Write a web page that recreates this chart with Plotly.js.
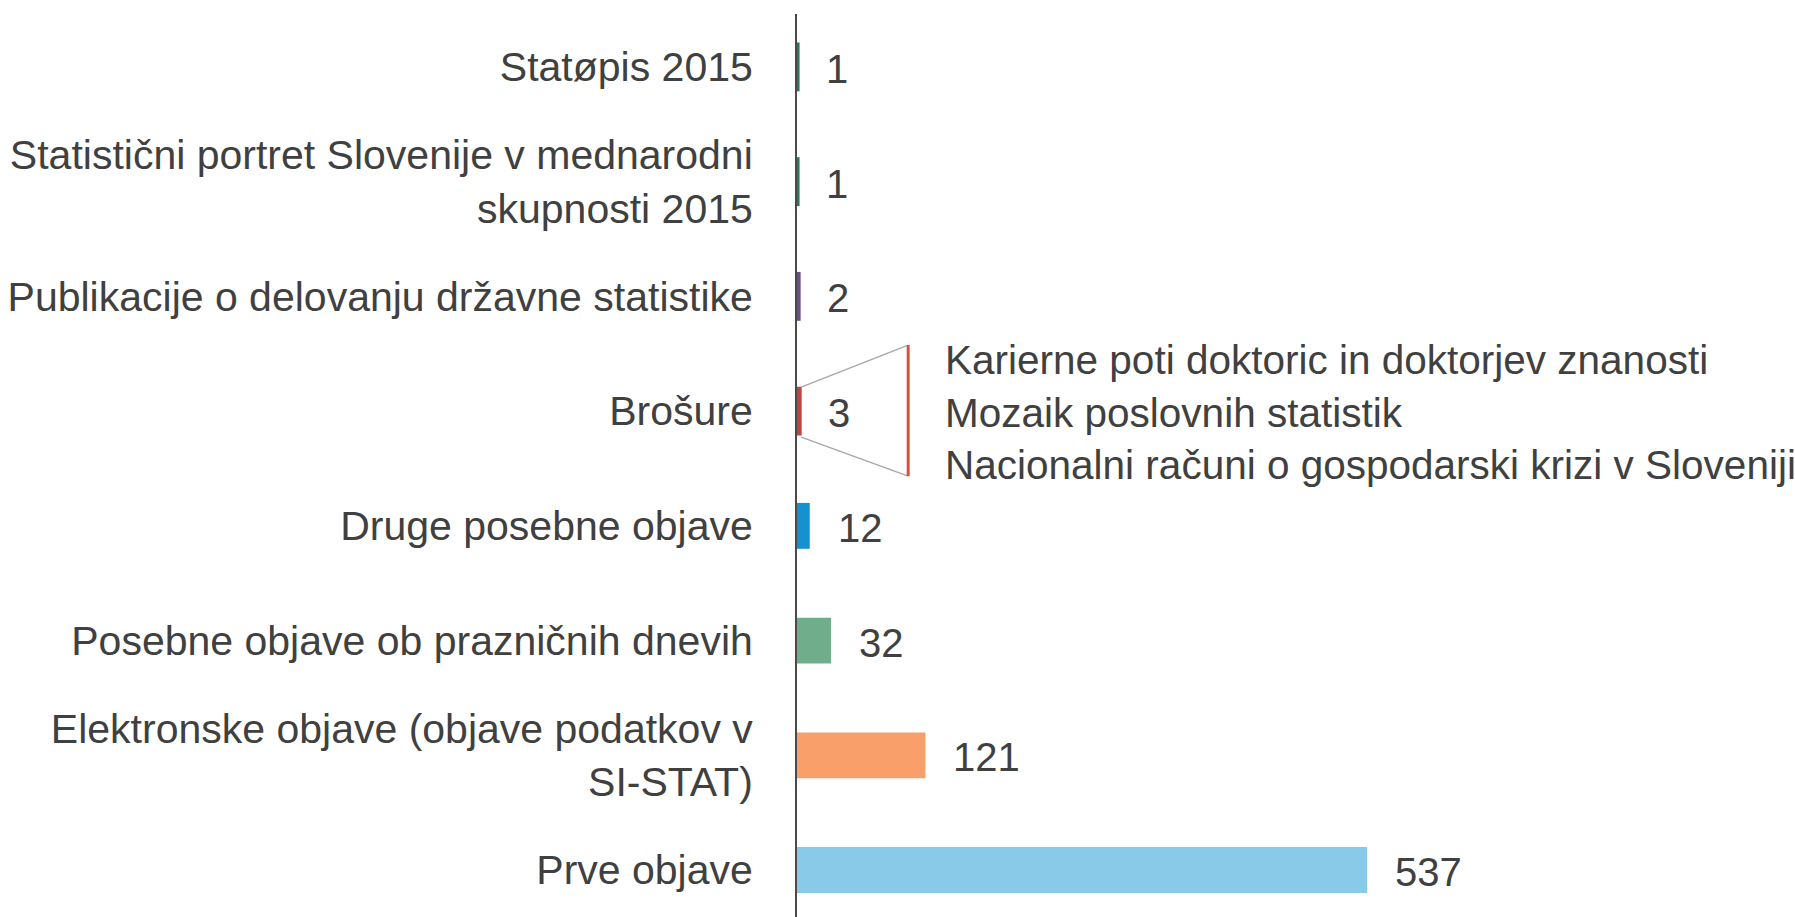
<!DOCTYPE html>
<html>
<head>
<meta charset="utf-8">
<script src="https://cdn.plot.ly/plotly-3.0.1.min.js"></script>
<style>
  html, body { margin: 0; padding: 0; background: #ffffff; }
  #chart { width: 1795px; height: 917px; }
</style>
</head>
<body>
<div id="chart"></div>
<script>
// Categories listed top to bottom
const categories = [
  "Statøpis 2015",
  "Statistični portret Slovenije v mednarodni<br>skupnosti 2015",
  "Publikacije o delovanju državne statistike",
  "Brošure",
  "Druge posebne objave",
  "Posebne objave ob prazničnih dnevih",
  "Elektronske objave (objave podatkov v<br>SI-STAT)",
  "Prve objave"
];
const values = [1, 1, 2, 3, 12, 32, 121, 537];
const barColors = ["#2a7658", "#1f7d5d", "#6c4f8a", "#c2443e", "#1790d0", "#70ad8a", "#f9a06a", "#89cae8"];
const brosureTitles = [
  "Karierne poti doktoric in doktorjev znanosti",
  "Mozaik poslovnih statistik",
  "Nacionalni računi o gospodarski krizi v Sloveniji"
];
const detailCategory = "Brošure";

const FONT = "Liberation Sans, Arial, Helvetica, sans-serif";
const TEXT_COLOR = "#404040";
const FS = 40;

const lineWidths = values.map(v => v <= 3 ? 3 : 0);

const trace = {
  type: "bar",
  orientation: "h",
  x: values,
  y: categories,
  marker: { color: barColors, line: { color: barColors, width: lineWidths } },
  hoverinfo: "x+y",
  cliponaxis: false
};

const annotations = values.map((v, i) => ({
  x: v, y: categories[i], xref: "x", yref: "y",
  text: String(v), showarrow: false,
  xanchor: "left", yanchor: "middle", xshift: 26, yshift: -2,
  font: { family: FONT, size: FS, color: TEXT_COLOR }
}));

const detailIdx = categories.indexOf(detailCategory);
annotations.push({
  x: values[detailIdx], y: detailCategory, xref: "x", yref: "y",
  text: brosureTitles.join("<br>"), showarrow: false,
  align: "left", xanchor: "left", yanchor: "middle", xshift: 143, yshift: -1,
  font: { family: FONT, size: 40.5, color: TEXT_COLOR }
});

const shapes = [
  { type: "line", xref: "x", yref: "y", xsizemode: "pixel", ysizemode: "pixel",
    xanchor: values[detailIdx], yanchor: detailCategory,
    x0: 1, y0: 24, x1: 108, y1: 66, line: { color: "#a8a8a8", width: 1.5 } },
  { type: "line", xref: "x", yref: "y", xsizemode: "pixel", ysizemode: "pixel",
    xanchor: values[detailIdx], yanchor: detailCategory,
    x0: 1, y0: -26, x1: 108, y1: -65, line: { color: "#a8a8a8", width: 1.5 } },
  { type: "line", xref: "x", yref: "y", xsizemode: "pixel", ysizemode: "pixel",
    xanchor: values[detailIdx], yanchor: detailCategory,
    x0: 108, y0: 66, x1: 108, y1: -65, line: { color: "#d6513f", width: 3 } }
];

const layout = {
  width: 1795, height: 917,
  margin: { l: 797, r: 0, t: 14, b: 0, pad: 0 },
  paper_bgcolor: "#ffffff", plot_bgcolor: "#ffffff",
  showlegend: false,
  bargap: 0.6,
  font: { family: FONT, size: FS, color: TEXT_COLOR },
  xaxis: {
    range: [0, 940], visible: false, showgrid: false, zeroline: false, fixedrange: true
  },
  yaxis: {
    type: "category",
    categoryorder: "array", categoryarray: categories,
    range: [7.409, -0.461],
    showline: true, linecolor: "#4a4a4a", linewidth: 2,
    ticks: "", showgrid: false, zeroline: false,
    ticklabelstandoff: 34,
    tickfont: { family: FONT, size: 41, color: TEXT_COLOR },
    automargin: false, fixedrange: true
  },
  annotations: annotations,
  shapes: shapes
};

Plotly.newPlot("chart", [trace], layout, { displayModeBar: false, staticPlot: true });
</script>
</body>
</html>
